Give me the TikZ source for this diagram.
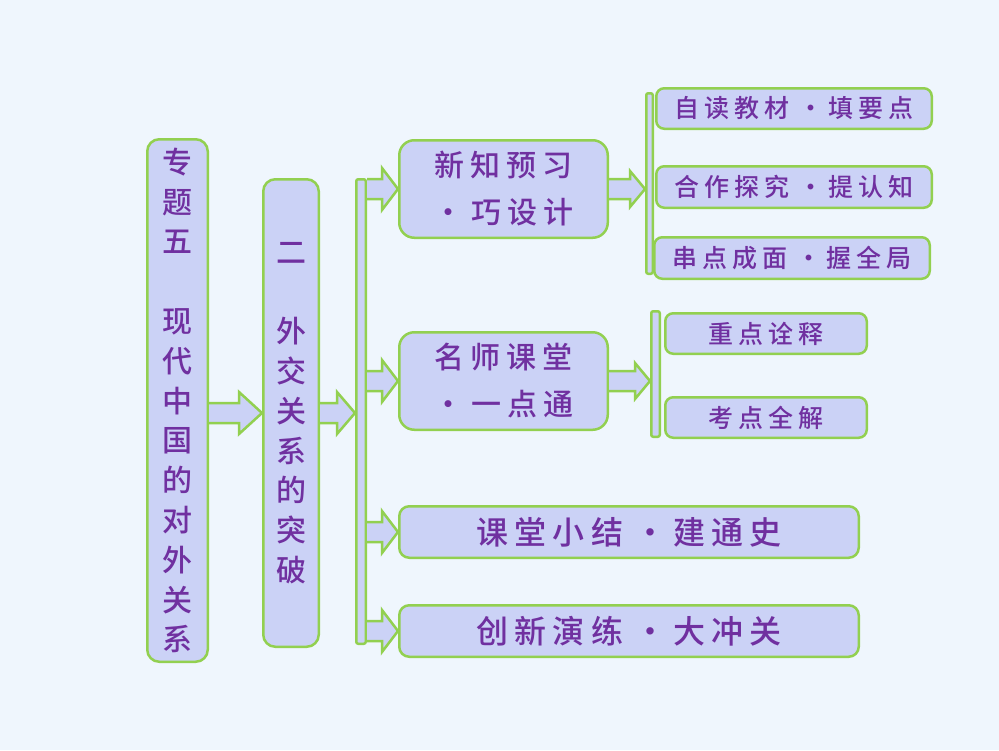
\documentclass[tikz,border=0pt]{standalone}
\usepackage{fontspec}
\newfontfamily\cjk[LetterSpace=20,UprightFont={* Medium}]{Noto Sans CJK SC}
\newfontfamily\cjkv[UprightFont={* Medium}]{Noto Sans CJK SC}
\usetikzlibrary{calc}
\definecolor{bgblue}{RGB}{239,246,253}
\definecolor{boxfill}{RGB}{203,210,246}
\definecolor{boxline}{RGB}{146,208,80}
\definecolor{txtpurple}{RGB}{112,48,160}
\tikzset{
  box/.style={draw=boxline, line width=2.5pt, fill=boxfill, rounded corners=12pt, inner sep=0pt, text=txtpurple, align=center},
  bar/.style={draw=boxline, line width=2.5pt, fill=boxfill, rounded corners=2pt, inner sep=0pt},
  arrowbox/.style={draw=boxline, line width=2.5pt, fill=boxfill, line join=miter},
  vtext/.style={font=\cjkv\fontsize{30}{39.8}\selectfont},
  bigtext/.style={font=\cjk\fontsize{30}{47}\selectfont},
  widetext/.style={font=\cjk\fontsize{32}{35}\selectfont},
  smalltext/.style={font=\cjk\fontsize{25}{30}\selectfont},
}
\newcommand\sdot{\hspace{.35em}·\hspace{.2em}}
\newcommand\blk[5]{\filldraw[arrowbox] ($#1+(0,-#3)$) -- ($#2+(-#5,-#3)$) -- ($#2+(-#5,-#4)$) -- #2 -- ($#2+(-#5,#4)$) -- ($#2+(-#5,#3)$) -- ($#1+(0,#3)$);}
\begin{document}
\begin{tikzpicture}[x=1pt,y=-1pt]
  \fill[bgblue] (0,0) rectangle (999,750);
  \useasboundingbox (0,0) rectangle (999,750);
  \node[box, vtext, minimum width=60.5pt, minimum height=522.5pt] (zt) at (177.5,400.5) {专\\题\\五\\\mbox{}\\现\\代\\中\\国\\的\\对\\外\\关\\系};
  \node[box, vtext, minimum width=55.5pt, minimum height=467.5pt] (er) at (291,413) {二\\\mbox{}\\外\\交\\关\\系\\的\\突\\破};
  \node[bar, minimum width=9.5pt, minimum height=464.5pt] (b1) at (361,411.5) {};
  \node[box, bigtext, rounded corners=15pt, minimum width=208.5pt, minimum height=97.5pt] (xz) at (503.5,189) {新知预习\\·\hspace{.25em}巧设计};
  \node[box, bigtext, rounded corners=15pt, minimum width=208.5pt, minimum height=97.5pt] (ms) at (503.5,381) {名师课堂\\·\hspace{.25em}一点通};
  \node[box, widetext, rounded corners=10pt, minimum width=459.5pt, minimum height=51.5pt] (kt) at (629,532) {课堂小结\sdot 建通史};
  \node[box, widetext, rounded corners=10pt, minimum width=459.5pt, minimum height=51.5pt] (cx) at (629,631) {创新演练\sdot 大冲关};
  \node[bar, minimum width=6.5pt, minimum height=180.5pt] (b2) at (649.5,183.5) {};
  \node[box, smalltext, rounded corners=8pt, minimum width=275.5pt, minimum height=40.5pt] (zd) at (794,108.5) {自读教材\sdot 填要点};
  \node[box, smalltext, rounded corners=8pt, minimum width=275.5pt, minimum height=41.5pt] (hz) at (794,187) {合作探究\sdot 提认知};
  \node[box, smalltext, rounded corners=8pt, minimum width=275.5pt, minimum height=41.5pt] (cd) at (792,258) {串点成面\sdot 握全局};
  \node[bar, minimum width=8.5pt, minimum height=125.5pt] (b3) at (655.5,374) {};
  \node[box, smalltext, rounded corners=8pt, minimum width=201.5pt, minimum height=40.5pt] (zs) at (766,333.5) {重点诠释};
  \node[box, smalltext, rounded corners=8pt, minimum width=201.5pt, minimum height=40.5pt] (kd) at (766,417.5) {考点全解};
  \coordinate (s1) at (zt.east |- er.west);
  \blk{(s1)}{(er.west)}{10}{21}{23}
  \coordinate (s2) at (er.east);
  \coordinate (t2) at (er.east -| b1.west);
  \blk{(s2)}{(t2)}{10}{21}{18}
  \foreach \n in {xz,ms,kt,cx}{
    \coordinate (s\n) at (\n.west -| b1.east);
    \blk{(s\n)}{(\n.west)}{10}{21}{16}
  }
  \coordinate (s3) at (xz.east);
  \coordinate (t3) at (xz.east -| b2.west);
  \blk{(s3)}{(t3)}{10}{18}{15}
  \coordinate (s4) at (ms.east);
  \coordinate (t4) at (ms.east -| b3.west);
  \blk{(s4)}{(t4)}{10}{18}{15}
\end{tikzpicture}
\end{document}
